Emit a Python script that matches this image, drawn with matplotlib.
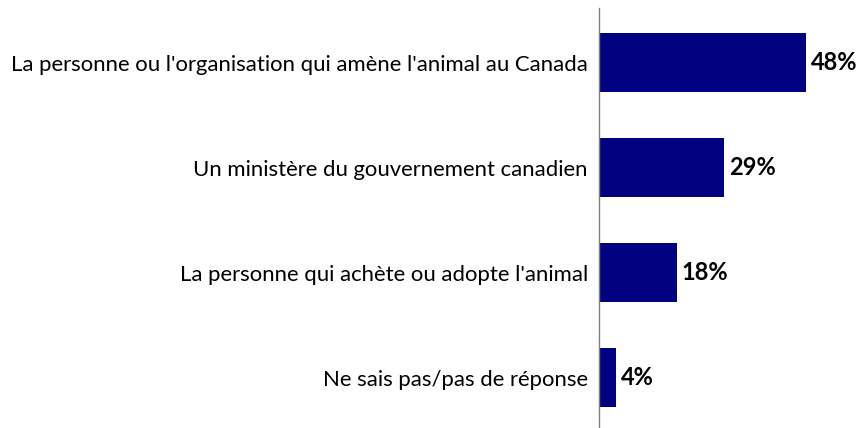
import matplotlib.pyplot as plt

categories = [
    "La personne ou l'organisation qui amène l'animal au Canada",
    "Un ministère du gouvernement canadien",
    "La personne qui achète ou adopte l'animal",
    "Ne sais pas/pas de réponse",
]
values = [48, 29, 18, 4]
labels = ["48%", "29%", "18%", "4%"]

plt.rcParams['font.family'] = ['Lato', 'DejaVu Sans']

fig = plt.figure(figsize=(8.6, 4.28), dpi=100)
ax = fig.add_axes([0.6965, 0.0, 1 - 0.6965, 0.981])

y = list(range(len(categories)))
ax.barh(y, values, height=0.56, color='#000080')
ax.set_ylim(3.48, -0.52)
ax.set_xlim(0, 60.5)

for yi, v, lab in zip(y, values, labels):
    ax.text(v + 1.2, yi, lab, va='center', ha='left', fontsize=17,
            fontweight='bold', color='black')

ax.set_yticks(y)
ax.set_yticklabels(categories, fontsize=15.9, color='black')
ax.tick_params(axis='y', length=0, pad=8)
ax.set_xticks([])
for s in ['top', 'right', 'bottom']:
    ax.spines[s].set_visible(False)
ax.spines['left'].set_color('#808080')
ax.spines['left'].set_linewidth(1)

fig.savefig('out.png', dpi=100)
